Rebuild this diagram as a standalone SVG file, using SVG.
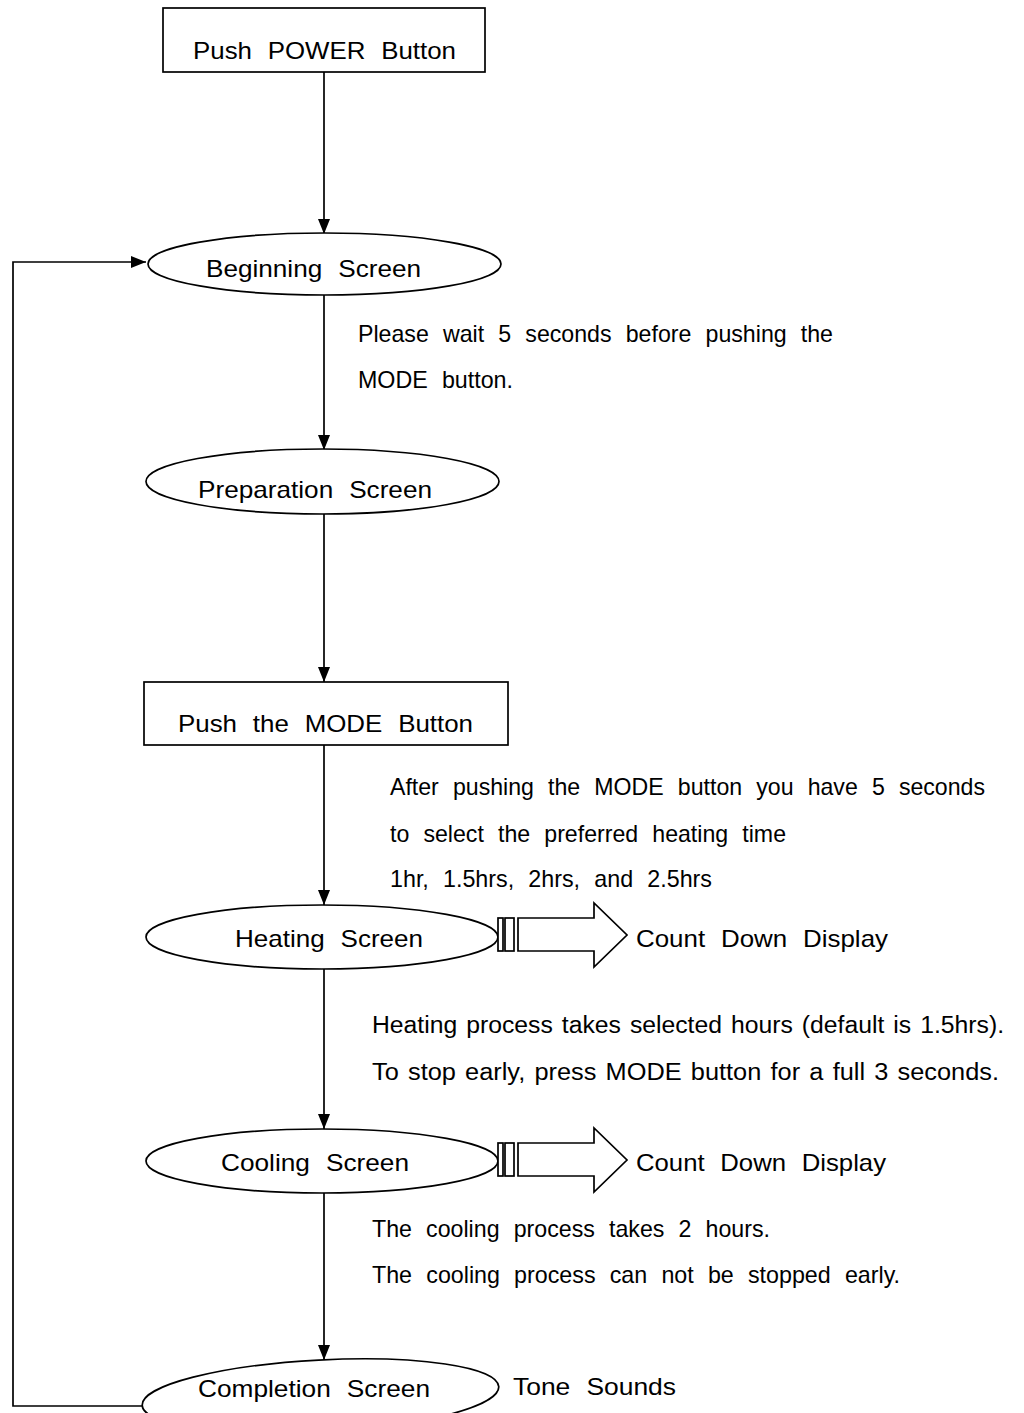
<svg xmlns="http://www.w3.org/2000/svg" xmlns:xlink="http://www.w3.org/1999/xlink" width="1024" height="1413" viewBox="0 0 1024 1413">
<style>
.t{font-family:"Liberation Sans",Arial,sans-serif;font-size:24px;fill:#000;word-spacing:8px}
.n{font-size:23px;word-spacing:2px}
.s{fill:#fff;stroke:#000;stroke-width:1.7}
.c{stroke:#000;stroke-width:1.7;fill:none}
</style>
<defs>
<marker id="ah" markerUnits="userSpaceOnUse" markerWidth="15" markerHeight="12" refX="15" refY="6" orient="auto">
<path d="M0,0 L15,6 L0,12 z" fill="#000"/>
</marker>
<g id="bigarrow">
<rect class="s" x="498" y="918" width="5" height="33"/>
<rect class="s" x="505" y="918" width="9" height="33"/>
<polygon class="s" points="518,918 594,918 594,903 627,935 594,967 594,951 518,951"/>
</g>
</defs>
<rect width="1024" height="1413" fill="#fff"/>
<g id="connectors">
<line class="c" x1="324" y1="72" x2="324" y2="234" marker-end="url(#ah)"/>
<line class="c" x1="324" y1="295" x2="324" y2="450" marker-end="url(#ah)"/>
<line class="c" x1="324" y1="514" x2="324" y2="682" marker-end="url(#ah)"/>
<line class="c" x1="324" y1="745" x2="324" y2="905" marker-end="url(#ah)"/>
<line class="c" x1="324" y1="969" x2="324" y2="1129" marker-end="url(#ah)"/>
<line class="c" x1="324" y1="1193" x2="324" y2="1360" marker-end="url(#ah)"/>
<polyline class="c" points="143,1406 13,1406 13,262 146,262" marker-end="url(#ah)"/>
</g>
<g id="n-power">
<rect class="s" x="163" y="8" width="322" height="64"/>
<text class="t" x="193" y="59" textLength="263" lengthAdjust="spacingAndGlyphs">Push POWER Button</text>
</g>
<g id="n-begin">
<ellipse class="s" cx="324.5" cy="264" rx="176.5" ry="31"/>
<text class="t" x="206" y="277" textLength="215" lengthAdjust="spacingAndGlyphs">Beginning Screen</text>
</g>
<g id="note-wait">
<text class="t" x="358" y="342" textLength="475" lengthAdjust="spacingAndGlyphs">Please wait 5 seconds before pushing the</text>
<text class="t" x="358" y="388" textLength="155" lengthAdjust="spacingAndGlyphs">MODE button.</text>
</g>
<g id="n-prep">
<ellipse class="s" cx="322.5" cy="481.5" rx="176.5" ry="32.5"/>
<text class="t" x="198" y="498" textLength="234" lengthAdjust="spacingAndGlyphs">Preparation Screen</text>
</g>
<g id="n-mode">
<rect class="s" x="144" y="682" width="364" height="63"/>
<text class="t" x="178" y="732" textLength="295" lengthAdjust="spacingAndGlyphs">Push the MODE Button</text>
</g>
<g id="note-select">
<text class="t" x="390" y="795" textLength="595" lengthAdjust="spacingAndGlyphs">After pushing the MODE button you have 5 seconds</text>
<text class="t" x="390" y="842" textLength="396" lengthAdjust="spacingAndGlyphs">to select the preferred heating time</text>
<text class="t" x="390" y="887" textLength="322" lengthAdjust="spacingAndGlyphs">1hr, 1.5hrs, 2hrs, and 2.5hrs</text>
</g>
<g id="n-heat">
<ellipse class="s" cx="322" cy="937" rx="176" ry="32"/>
<text class="t" x="235" y="947" textLength="188" lengthAdjust="spacingAndGlyphs">Heating Screen</text>
<use xlink:href="#bigarrow" href="#bigarrow"/>
<text class="t" x="636" y="947" textLength="252" lengthAdjust="spacingAndGlyphs">Count Down Display</text>
</g>
<g id="note-heat">
<text class="t n" x="372" y="1033" textLength="632" lengthAdjust="spacingAndGlyphs">Heating process takes selected hours (default is 1.5hrs).</text>
<text class="t n" x="372" y="1080" textLength="627" lengthAdjust="spacingAndGlyphs">To stop early, press MODE button for a full 3 seconds.</text>
</g>
<g id="n-cool">
<ellipse class="s" cx="322" cy="1161" rx="176" ry="32"/>
<text class="t" x="221" y="1171" textLength="188" lengthAdjust="spacingAndGlyphs">Cooling Screen</text>
<use xlink:href="#bigarrow" href="#bigarrow" transform="translate(0,225)"/>
<text class="t" x="636" y="1171" textLength="250" lengthAdjust="spacingAndGlyphs">Count Down Display</text>
</g>
<g id="note-cool">
<text class="t" x="372" y="1237" textLength="398" lengthAdjust="spacingAndGlyphs">The cooling process takes 2 hours.</text>
<text class="t" x="372" y="1283" textLength="528" lengthAdjust="spacingAndGlyphs">The cooling process can not be stopped early.</text>
</g>
<g id="n-done">
<ellipse class="s" cx="320.5" cy="1396" rx="178.5" ry="36" transform="rotate(-3 320.5 1396)"/>
<text class="t" x="198" y="1397" textLength="232" lengthAdjust="spacingAndGlyphs">Completion Screen</text>
<text class="t" x="513" y="1395" textLength="163" lengthAdjust="spacingAndGlyphs">Tone Sounds</text>
</g>
</svg>
